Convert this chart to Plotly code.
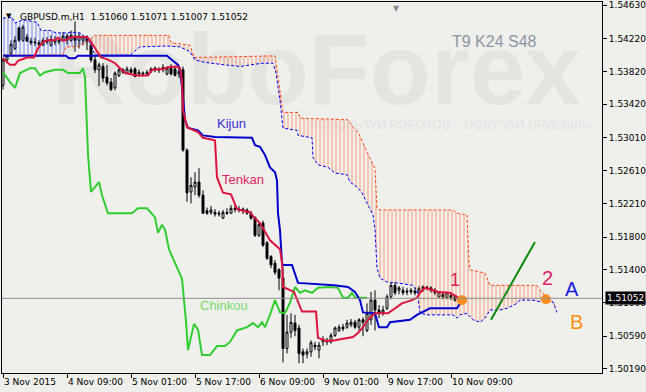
import plotly.graph_objects as go

# ---------------- data ----------------
bars = list(range(115))
opens = [1.5365, 1.5396, 1.5404, 1.5410, 1.5435, 1.5420, 1.5424, 1.5419, 1.5418, 1.5417,
         1.5414, 1.5420, 1.5414, 1.5420, 1.5418, 1.5420, 1.5425, 1.5420, 1.5425, 1.5420,
         1.5420, 1.5424, 1.5414, 1.5396, 1.5384, 1.5388, 1.5375, 1.5369, 1.5362, 1.5377,
         1.5384, 1.5380, 1.5384, 1.5385, 1.5379, 1.5380, 1.5379, 1.5382, 1.5384, 1.5385,
         1.5384, 1.5379, 1.5386, 1.5385, 1.5379, 1.5384, 1.5286, 1.5235, 1.5241, 1.5247,
         1.5231, 1.5212, 1.5210, 1.5210, 1.5209, 1.5203, 1.5210, 1.5209, 1.5215, 1.5214,
         1.5214, 1.5213, 1.5209, 1.5204, 1.5182, 1.5197, 1.5173, 1.5156, 1.5148, 1.5140,
         1.5130, 1.5044, 1.5064, 1.5075, 1.5069, 1.5040, 1.5037, 1.5040, 1.5048, 1.5042,
         1.5052, 1.5052, 1.5052, 1.5060, 1.5066, 1.5070, 1.5070, 1.5073, 1.5076, 1.5070,
         1.5079, 1.5066, 1.5079, 1.5103, 1.5091, 1.5088, 1.5093, 1.5107, 1.5121, 1.5115,
         1.5115, 1.5114, 1.5113, 1.5114, 1.5113, 1.5117, 1.5118, 1.5118, 1.5115, 1.5107,
         1.5110, 1.5106, 1.5109, 1.5107, 1.51060]
highs = [1.5399, 1.5403, 1.5420, 1.5425, 1.5437, 1.5439, 1.5428, 1.5423, 1.5423, 1.5420,
         1.5423, 1.5424, 1.5426, 1.5425, 1.5423, 1.5430, 1.5428, 1.5432, 1.5443, 1.5429,
         1.5426, 1.5426, 1.5415, 1.5402, 1.5393, 1.5392, 1.5390, 1.5374, 1.5382, 1.5387,
         1.5386, 1.5388, 1.5387, 1.5387, 1.5384, 1.5382, 1.5384, 1.5387, 1.5388, 1.5387,
         1.5391, 1.5388, 1.5391, 1.5388, 1.5386, 1.5388, 1.5288, 1.5253, 1.5259, 1.5264,
         1.5237, 1.5216, 1.5218, 1.5214, 1.5212, 1.5213, 1.5215, 1.5219, 1.5219, 1.5218,
         1.5216, 1.5215, 1.5212, 1.5205, 1.5198, 1.5200, 1.5175, 1.5158, 1.5152, 1.5142,
         1.5143, 1.5085, 1.5087, 1.5085, 1.5073, 1.5044, 1.5044, 1.5054, 1.5052, 1.5052,
         1.5059, 1.5057, 1.5063, 1.5071, 1.5073, 1.5074, 1.5079, 1.5080, 1.5079, 1.5081,
         1.5082, 1.5099, 1.5113, 1.5115, 1.5097, 1.5096, 1.5110, 1.5124, 1.5125, 1.5120,
         1.5119, 1.5118, 1.5118, 1.5118, 1.5120, 1.5121, 1.5120, 1.5120, 1.5118, 1.5114,
         1.5113, 1.5113, 1.5112, 1.5109, 1.51071]
lows = [1.5360, 1.5392, 1.5402, 1.5408, 1.5418, 1.5418, 1.5418, 1.5414, 1.5413, 1.5412,
        1.5413, 1.5415, 1.5412, 1.5414, 1.5415, 1.5418, 1.5415, 1.5418, 1.5406, 1.5410,
        1.5414, 1.5408, 1.5393, 1.5380, 1.5364, 1.5369, 1.5365, 1.5358, 1.5359, 1.5375,
        1.5379, 1.5379, 1.5379, 1.5375, 1.5376, 1.5376, 1.5377, 1.5380, 1.5381, 1.5380,
        1.5381, 1.5377, 1.5377, 1.5376, 1.5374, 1.5284, 1.5223, 1.5221, 1.5231, 1.5228,
        1.5208, 1.5207, 1.5207, 1.5205, 1.5205, 1.5202, 1.5207, 1.5208, 1.5210, 1.5210,
        1.5208, 1.5207, 1.5201, 1.5180, 1.5180, 1.5168, 1.5152, 1.5142, 1.5134, 1.5115,
        1.5027, 1.5038, 1.5057, 1.5059, 1.5026, 1.5026, 1.5032, 1.5034, 1.5042, 1.5032,
        1.5047, 1.5048, 1.5050, 1.5058, 1.5064, 1.5065, 1.5068, 1.5070, 1.5068, 1.5066,
        1.5059, 1.5064, 1.5073, 1.5066, 1.5081, 1.5084, 1.5091, 1.5104, 1.5109, 1.5110,
        1.5109, 1.5109, 1.5110, 1.5109, 1.5110, 1.5113, 1.5115, 1.5112, 1.5109, 1.5106,
        1.5104, 1.5104, 1.5103, 1.5101, 1.51007]
closes = [1.5396, 1.5401, 1.5415, 1.5420, 1.5420, 1.5436, 1.5419, 1.5417, 1.5417, 1.5415,
          1.5420, 1.5418, 1.5421, 1.5418, 1.5420, 1.5425, 1.5420, 1.5426, 1.5420, 1.5425,
          1.5424, 1.5418, 1.5396, 1.5384, 1.5390, 1.5374, 1.5368, 1.5360, 1.5380, 1.5384,
          1.5381, 1.5385, 1.5381, 1.5376, 1.5381, 1.5379, 1.5381, 1.5385, 1.5386, 1.5384,
          1.5387, 1.5386, 1.5379, 1.5377, 1.5382, 1.5286, 1.5234, 1.5243, 1.5247, 1.5231,
          1.5209, 1.5209, 1.5213, 1.5208, 1.5208, 1.5210, 1.5209, 1.5215, 1.5214, 1.5213,
          1.5212, 1.5209, 1.5203, 1.5182, 1.5195, 1.5170, 1.5154, 1.5146, 1.5137, 1.5130,
          1.5044, 1.5064, 1.5076, 1.5066, 1.5038, 1.5036, 1.5040, 1.5051, 1.5046, 1.5048,
          1.5055, 1.5054, 1.5060, 1.5069, 1.5070, 1.5068, 1.5075, 1.5076, 1.5070, 1.5079,
          1.5076, 1.5087, 1.5103, 1.5091, 1.5087, 1.5091, 1.5107, 1.5121, 1.5112, 1.5118,
          1.5112, 1.5113, 1.5115, 1.5112, 1.5117, 1.5119, 1.5119, 1.5115, 1.5112, 1.5113,
          1.5107, 1.5112, 1.5106, 1.5103, 1.51052]

# Ichimoku lines (bar index, price)
tenkan_x = [0, 1.75, 3, 3.75, 6, 7.75, 8.75, 9.75, 11, 13, 13.75, 14.75, 15.75, 16.5, 18, 21,
            21.75, 22.5, 23.5, 24.5, 26, 28, 30.5, 33.5, 36.25, 37.25, 40, 41.25, 43.5, 44.25,
            44.75, 45, 46, 48.75, 50, 53, 53.5, 55, 57, 58.5, 61.75, 62.75, 64.25, 66.75, 69.25,
            69.75, 70, 72.75, 74.75, 78.25, 78.75, 81, 83, 86.25, 87.5, 88.75, 90, 91.25, 93,
            96.25, 98, 99.75, 102.25, 103.5, 104.25, 105.5, 107.5, 108.75, 111.75, 113.5, 114.25]
tenkan_y = [1.5398, 1.5390, 1.5390, 1.5395, 1.5399, 1.5399, 1.5410, 1.5417, 1.5420, 1.5420,
            1.5423, 1.5420, 1.5420, 1.5423, 1.5424, 1.5424, 1.5420, 1.5414, 1.5406, 1.5399,
            1.5397, 1.5392, 1.5380, 1.5377, 1.5377, 1.5384, 1.5385, 1.5387, 1.5388, 1.5386,
            1.5371, 1.5335, 1.5314, 1.5308, 1.5301, 1.5298, 1.5253, 1.5234, 1.5232, 1.5214,
            1.5210, 1.5204, 1.5197, 1.5176, 1.5165, 1.5149, 1.5119, 1.5113, 1.5089, 1.5089,
            1.5057, 1.5053, 1.5054, 1.5057, 1.5058, 1.5063, 1.5070, 1.5079, 1.5087, 1.5087,
            1.5093, 1.5099, 1.5103, 1.5106, 1.5112, 1.5118, 1.5115, 1.5113, 1.5112, 1.5107,
            1.5103]
kijun_x = [0, 15.75, 16.5, 18, 18.75, 41, 42.25, 43.75, 44.25, 44.75, 45.5, 46.25, 48.75, 50,
           53, 62.25, 63, 64.25, 65.5, 66.75, 68, 68.5, 68.75, 69.25, 69.75, 70, 72.25, 73.75,
           82.75, 86.25, 88, 89.25, 90, 93, 94, 96, 96.75, 101.75, 103.5, 106, 106.75, 113.5,
           114.25]
kijun_y = [1.5401, 1.5401, 1.5398, 1.5398, 1.5401, 1.5401, 1.5396, 1.5390, 1.5384, 1.5363,
           1.5323, 1.5313, 1.5310, 1.5304, 1.5302, 1.5301, 1.5292, 1.5290, 1.5280, 1.5265,
           1.5259, 1.5249, 1.5209, 1.5188, 1.5148, 1.5146, 1.5146, 1.5124, 1.5121, 1.5119,
           1.5113, 1.5103, 1.5088, 1.5087, 1.5070, 1.5070, 1.5076, 1.5079, 1.5085, 1.5091,
           1.5093, 1.5093, 1.5099]
chinkou_x = [0, 1.75, 3, 4.25, 6.75, 8, 9.25, 10.5, 13, 15, 16.25, 19.25, 20, 20.5, 21.25, 22,
             24, 24.75, 26.25, 32.25, 33.75, 36, 38, 38.75, 39.75, 40.5, 41.5, 44.75, 45.75,
             46.25, 47.75, 48.75, 49.75, 51.75, 53.5, 55.5, 56.75, 58.5, 61, 62.5, 63.75, 64.75,
             65.5, 66.75, 68, 69.25, 70.5, 71.75, 73, 74.25, 75.5, 77.25, 78.75, 81.75, 83.75,
             85, 86.25, 87.25, 88, 91]
chinkou_y = [1.5381, 1.5369, 1.5362, 1.5380, 1.5386, 1.5386, 1.5377, 1.5381, 1.5384, 1.5384,
             1.5380, 1.5380, 1.5386, 1.5375, 1.5281, 1.5235, 1.5247, 1.5231, 1.5209, 1.5209,
             1.5215, 1.5215, 1.5204, 1.5185, 1.5195, 1.5189, 1.5165, 1.5129, 1.5077, 1.5042,
             1.5074, 1.5067, 1.5036, 1.5036, 1.5047, 1.5047, 1.5052, 1.5066, 1.5070, 1.5075,
             1.5070, 1.5076, 1.5070, 1.5085, 1.5103, 1.5088, 1.5087, 1.5100, 1.5119, 1.5112,
             1.5115, 1.5112, 1.5118, 1.5119, 1.5118, 1.5106, 1.5106, 1.5112, 1.5106, 1.5106]
span_a_x = [0, 2.25, 3, 5, 8.5, 9.5, 11.75, 13.25, 15.75, 17.25, 19.25, 21.5, 23, 31.75, 34.25,
            41, 44.25, 46.75, 48, 50.5, 55.5, 59.25, 64.75, 67.5, 68.25, 69.25, 70, 73.5, 73.75,
            77.25, 77.5, 78.75, 81.25, 83, 86, 86.75, 88.5, 89.75, 91.25, 92.5, 93, 93.5, 94.25,
            96, 98.5, 102.5, 103.5, 104.25, 106, 112.5, 113.5, 114.25, 116, 117.5, 119.25,
            120.5, 121.75, 124.25, 126, 128.5, 129.25, 132.5, 134.25, 137.5, 138.5]
span_a_y = [1.5447, 1.5448, 1.5441, 1.5445, 1.5442, 1.5432, 1.5432, 1.5429, 1.5429, 1.5430,
            1.5429, 1.5420, 1.5402, 1.5402, 1.5412, 1.5413, 1.5412, 1.5406, 1.5396, 1.5393,
            1.5390, 1.5388, 1.5392, 1.5392, 1.5380, 1.5347, 1.5313, 1.5310, 1.5304, 1.5301,
            1.5277, 1.5268, 1.5265, 1.5258, 1.5256, 1.5247, 1.5241, 1.5234, 1.5219, 1.5207,
            1.5189, 1.5142, 1.5130, 1.5125, 1.5124, 1.5121, 1.5115, 1.5087, 1.5085, 1.5085,
            1.5081, 1.5085, 1.5087, 1.5079, 1.5076, 1.5081, 1.5091, 1.5091, 1.5093, 1.5099,
            1.5103, 1.5103, 1.5101, 1.5101, 1.5088]
span_b_x = [0, 15, 15.75, 18.5, 21.5, 23, 41.5, 42, 46.75, 47.75, 68, 68.25, 68.75, 69.75, 70,
            73.75, 74.25, 86.25, 87.5, 88.75, 90, 91.25, 92.5, 93, 93.5, 94.25, 112.5, 113.5,
            116, 116.5, 116.75, 120.5, 121.75, 133.5, 134.25, 136.75, 138]
span_b_y = [1.5402, 1.5402, 1.5412, 1.5412, 1.5420, 1.5426, 1.5426, 1.5417, 1.5414, 1.5399,
            1.5401, 1.5393, 1.5371, 1.5341, 1.5332, 1.5332, 1.5325, 1.5323, 1.5314, 1.5308,
            1.5294, 1.5280, 1.5268, 1.5264, 1.5215, 1.5213, 1.5213, 1.5209, 1.5207, 1.5149,
            1.5140, 1.5136, 1.5121, 1.5121, 1.5115, 1.5103, 1.5097]
cloud_switch = 21.5          # Span A / Span B crossing

trend_x = [122, 133]
trend_y = [1.5079, 1.5174]
marks_x = [114.75, 135.75]
marks_y = [1.5103, 1.5104]
last_price = 1.51052

x_tick_bars = [0, 16, 32, 48, 64, 80, 96, 112]
x_tick_text = ["3 Nov 2015", "4 Nov 09:00", "5 Nov 01:00", "5 Nov 17:00",
               "6 Nov 09:00", "9 Nov 01:00", "9 Nov 17:00", "10 Nov 09:00"]
y_tick_vals = [1.50190, 1.50590, 1.51000, 1.51400, 1.51800, 1.52210,
               1.52610, 1.53010, 1.53420, 1.53820, 1.54220, 1.54630]

# ---------------- figure ----------------
BG = "#EFEFEC"
FONT = "DejaVu Sans"
fig = go.Figure()


def part(xs, ys, lo, hi):
    pts = [(a, b) for a, b in zip(xs, ys) if lo <= a <= hi]
    return [p[0] for p in pts], [p[1] for p in pts]


# cloud hatch
for lo, hi, col in [(-1, cloud_switch, "#2244EE"), (cloud_switch, 200, "#FF6A30")]:
    bx, by = part(span_b_x, span_b_y, lo, hi)
    ax_, ay_ = part(span_a_x, span_a_y, lo, hi)
    fig.add_trace(go.Scatter(x=bx, y=by, mode="lines", line=dict(width=0),
                             hoverinfo="skip", showlegend=False))
    fig.add_trace(go.Scatter(x=ax_, y=ay_, mode="lines", line=dict(width=0),
                             fill="tonexty", fillcolor="rgba(0,0,0,0)",
                             fillpattern=dict(shape="|", fgcolor=col, fgopacity=0.5,
                                              bgcolor="rgba(0,0,0,0)", size=4, solidity=0.3),
                             hoverinfo="skip", showlegend=False))

fig.add_trace(go.Scatter(x=span_a_x, y=span_a_y, mode="lines",
                         line=dict(color="#0000FF", width=1, dash="3px,2px"), showlegend=False))
fig.add_trace(go.Scatter(x=span_b_x, y=span_b_y, mode="lines",
                         line=dict(color="#FF4A1A", width=1, dash="3px,2px"), showlegend=False))

fig.add_trace(go.Candlestick(x=bars, open=opens, high=highs, low=lows, close=closes,
                             increasing=dict(line=dict(color="black", width=1), fillcolor="white"),
                             decreasing=dict(line=dict(color="black", width=1), fillcolor="black"),
                             whiskerwidth=0, showlegend=False))

fig.add_trace(go.Scatter(x=chinkou_x, y=chinkou_y, mode="lines",
                         line=dict(color="#32CD32", width=2), showlegend=False))
fig.add_trace(go.Scatter(x=kijun_x, y=kijun_y, mode="lines",
                         line=dict(color="#0000CD", width=2), showlegend=False))
fig.add_trace(go.Scatter(x=tenkan_x, y=tenkan_y, mode="lines",
                         line=dict(color="#DC143C", width=2), showlegend=False))
fig.add_trace(go.Scatter(x=trend_x, y=trend_y, mode="lines",
                         line=dict(color="#0A8A0A", width=2), showlegend=False))
fig.add_trace(go.Scatter(x=marks_x, y=marks_y, mode="markers",
                         marker=dict(color="#FF9020", size=10, line=dict(width=0)),
                         showlegend=False))

fig.add_hline(y=last_price, line=dict(color="#8C8C8C", width=1))

# watermark drawn behind the data (shape labels on the "below" layer)
shapes = [
    dict(type="rect", xref="paper", yref="paper", x0=0.05, x1=1.0, y0=0.73, y1=0.96,
         layer="below", line=dict(width=0), fillcolor="rgba(0,0,0,0)",
         label=dict(text="<b>RoboForex</b>", textposition="middle center",
                    font=dict(family="Liberation Sans", size=100, color="#E4E4E1"))),
    dict(type="rect", xref="paper", yref="paper", x0=0.45, x1=0.99, y0=0.64, y1=0.70,
         layer="below", line=dict(width=0), fillcolor="rgba(0,0,0,0)",
         label=dict(text="ИСПОЛЬЗУЙ РОБОТОВ – ПОЛУЧАЙ ПРИБЫЛЬ", textposition="middle right",
                    font=dict(family="Liberation Sans", size=12.5, color="#E4E4E1"))),
]

ann = []
ann.append(dict(text="T9 K24 S48", xref="paper", yref="paper", x=0.895, y=0.922,
                showarrow=False, font=dict(family="Liberation Sans", size=16, color="#8A97A6")))
ann.append(dict(text="▼", xref="paper", yref="paper", x=0.003, y=0.978, xanchor="left",
                showarrow=False, font=dict(family=FONT, size=7, color="black")))
ann.append(dict(text="GBPUSD.m,H1  1.51060 1.51071 1.51007 1.51052", xref="paper",
                yref="paper", x=0.026, y=0.978, xanchor="left", showarrow=False,
                font=dict(family=FONT, size=9, color="black")))
ann.append(dict(text="▼", xref="paper", yref="paper", x=0.657, y=1.0, yanchor="top",
                showarrow=False, font=dict(family=FONT, size=8, color="#8A8A8A")))
ann.append(dict(text="Kijun", x=57, y=1.5318, showarrow=False,
                font=dict(family="Liberation Sans", size=13, color="#3A2FD6")))
ann.append(dict(text="Tenkan", x=60, y=1.5250, showarrow=False,
                font=dict(family="Liberation Sans", size=13, color="#E0245E")))
ann.append(dict(text="Chinkou", x=55.2, y=1.5096, showarrow=False,
                font=dict(family="Liberation Sans", size=13, color="#78DB6A")))
ann.append(dict(text="1", x=113, y=1.5128, showarrow=False,
                font=dict(family="Liberation Sans", size=18, color="#E0245E")))
ann.append(dict(text="2", x=136, y=1.5130, showarrow=False,
                font=dict(family="Liberation Sans", size=20, color="#E0245E")))
ann.append(dict(text="A", x=142.25, y=1.5116, showarrow=False,
                font=dict(family="Liberation Sans", size=20, color="#1A1ADC")))
ann.append(dict(text="B", x=143.25, y=1.5076, showarrow=False,
                font=dict(family="Liberation Sans", size=20, color="#FF9010")))
ann.append(dict(text="1.51052", xref="paper", yref="y", x=1.0, y=last_price, xanchor="left",
                xshift=3, showarrow=False, bgcolor="black", borderpad=1,
                font=dict(family=FONT, size=9, color="white")))

fig.update_layout(
    width=646, height=392,
    margin=dict(l=2, r=44, t=2, b=19),
    paper_bgcolor=BG, plot_bgcolor=BG,
    annotations=ann,
    font=dict(family=FONT, size=9, color="black"),
    xaxis=dict(range=[-0.25, 149.75], showgrid=False, zeroline=False, automargin=False,
               tickmode="array", tickvals=x_tick_bars, ticktext=x_tick_text, tickangle=0,
               ticks="outside", ticklen=4, tickcolor="black",
               ticklabelposition="outside right",
               showline=True, linecolor="black", linewidth=1, mirror=True,
               rangeslider=dict(visible=False)),
    yaxis=dict(range=[1.50141, 1.54667], side="right", showgrid=False, zeroline=False,
               automargin=False,
               tickmode="array", tickvals=y_tick_vals,
               ticktext=["%.5f" % v for v in y_tick_vals],
               ticks="outside", ticklen=4, tickcolor="black",
               showline=True, linecolor="black", linewidth=1, mirror=True),
    hovermode=False,
)
for s in shapes:
    fig.add_shape(**s)

fig.write_html("out.html")
